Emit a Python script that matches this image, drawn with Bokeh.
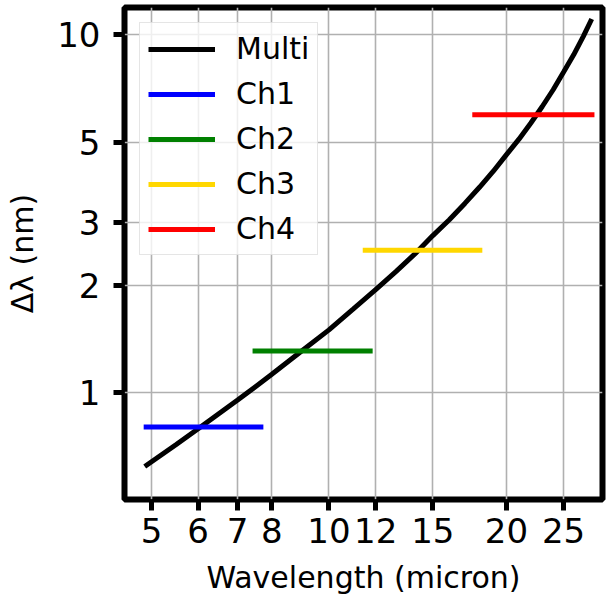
from bokeh.plotting import figure
from bokeh.models import FixedTicker, NumeralTickFormatter, Legend, LegendItem, Range1d
from bokeh.embed import file_html
from bokeh.resources import INLINE

# ---- data ----
multi_wave = [4.87, 5.5, 6, 7, 8, 9, 10, 11, 12, 13, 14, 15, 16, 17, 18, 19, 20,
              21, 22, 23, 24, 25, 26, 27, 27.9]
multi_dlam = [0.623, 0.717, 0.794, 0.955, 1.127, 1.311, 1.50, 1.717, 1.943, 2.186,
              2.449, 2.75, 3.044, 3.382, 3.752, 4.16, 4.63, 5.113, 5.674, 6.307,
              7.024, 7.87, 8.793, 9.901, 11.07]

channels = ["Ch1", "Ch2", "Ch3", "Ch4"]
ch_start = [4.85, 7.42, 11.41, 17.5]
ch_end = [7.74, 11.86, 18.2, 28.2]
ch_dlam = [0.803, 1.309, 2.503, 5.98]
ch_colors = ["#0000ff", "#008000", "#ffd700", "#ff0000"]

x_ticks = [5, 6, 7, 8, 10, 12, 15, 20, 25]
y_ticks = [1, 2, 3, 5, 10]
x_lim = (4.5, 29.1)
y_lim = (0.504, 11.92)

FONT = "DejaVu Sans"

p = figure(frame_width=478, frame_height=492,
           x_axis_type="log", y_axis_type="log",
           x_range=Range1d(*x_lim), y_range=Range1d(*y_lim),
           output_backend="svg", toolbar_location=None,
           min_border_left=124, min_border_right=5,
           min_border_top=7, min_border_bottom=97,
           background_fill_color="white", border_fill_color="white")

p.outline_line_color = "black"
p.outline_line_width = 6

for ax, ticks in ((p.xaxis[0], x_ticks), (p.yaxis[0], y_ticks)):
    ax.ticker = FixedTicker(ticks=ticks, minor_ticks=[])
    ax.formatter = NumeralTickFormatter(format="0")
    ax.axis_line_color = None
    ax.major_tick_line_color = "black"
    ax.major_tick_line_width = 5
    ax.major_tick_out = 11
    ax.major_tick_in = 0
    ax.minor_tick_line_color = None
    ax.major_label_text_font = FONT
    ax.major_label_text_font_size = "34px"
    ax.major_label_text_color = "black"
    ax.axis_label_text_font = FONT
    ax.axis_label_text_font_size = "30px"
    ax.axis_label_text_font_style = "normal"
    ax.axis_label_text_color = "black"

p.xaxis.axis_label = "Wavelength (micron)"
p.yaxis.axis_label = "Δλ (nm)"
p.xaxis.major_label_standoff = 7
p.yaxis.major_label_standoff = 13
p.xaxis.axis_label_standoff = 14
p.yaxis.axis_label_standoff = 14

for g in (p.xgrid[0], p.ygrid[0]):
    g.grid_line_color = "#b0b0b0"
    g.grid_line_width = 1.6

items = []
r_multi = p.line(multi_wave, multi_dlam, line_color="black", line_width=5)
items.append(LegendItem(label="Multi", renderers=[r_multi]))
for name, x0, x1, d, c in zip(channels, ch_start, ch_end, ch_dlam, ch_colors):
    r = p.line([x0, x1], [d, d], line_color=c, line_width=5)
    items.append(LegendItem(label=name, renderers=[r]))

legend = Legend(items=items, location="top_left", margin=15, padding=8,
                spacing=10, glyph_width=67, glyph_height=28, label_height=28,
                label_standoff=21, label_text_font=FONT,
                label_text_font_size="30px", label_text_color="black",
                border_line_color="#cccccc", border_line_width=1.5,
                background_fill_color="white", background_fill_alpha=0.8)
p.add_layout(legend)

open("out.html", "w").write(file_html(p, INLINE))
